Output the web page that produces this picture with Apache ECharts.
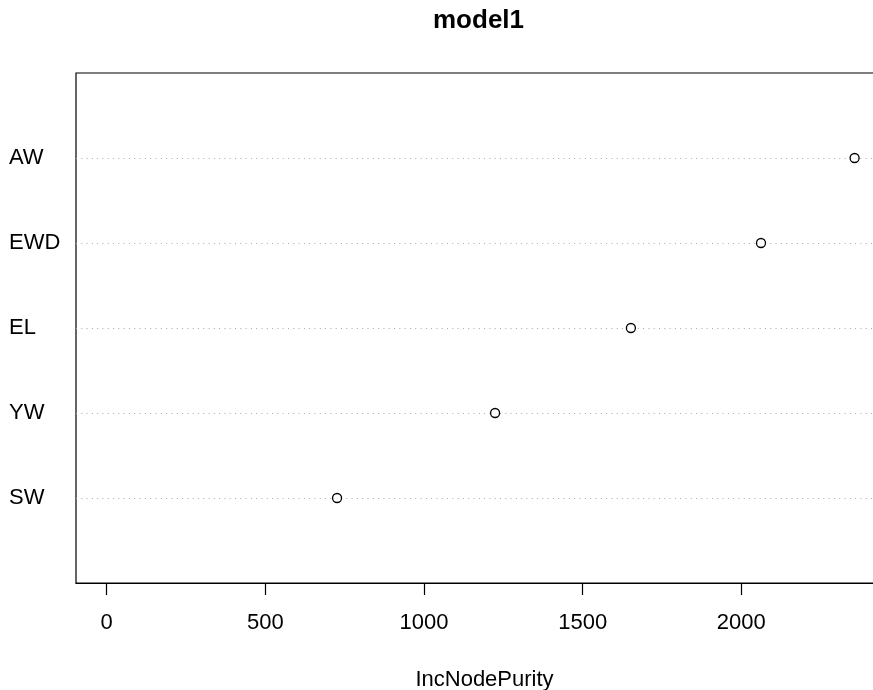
<!DOCTYPE html>
<html>
<head>
<meta charset="utf-8">
<script src="https://cdn.jsdelivr.net/npm/echarts@6/dist/echarts.min.js"></script>
<style>
  html, body { margin: 0; padding: 0; background: #fff; }
  #chart { width: 873px; height: 690px; }
</style>
</head>
<body>
<div id="chart"></div>
<script>
// Data (top-to-bottom order as drawn)
var categories = ['AW', 'EWD', 'EL', 'YW', 'SW'];
var incNodePurity = [2357, 2062, 1652, 1224, 726];
var xTicks = [0, 500, 1000, 1500, 2000];
var titleText = 'model1';
var xAxisTitle = 'IncNodePurity';

// Row positions: bottom row = 1, top row = n
var n = categories.length;
var rowPos = categories.map(function (c, i) { return n - i; });
var points = incNodePurity.map(function (v, i) { return [v, rowPos[i]]; });

var FONT = '"Liberation Sans", Arial, sans-serif';

var chart = echarts.init(document.getElementById('chart'), null, { renderer: 'canvas' });
chart.setOption({
  backgroundColor: '#ffffff',
  animation: false,
  title: {
    text: titleText,
    left: 433,
    top: 8,
    padding: 0,
    textStyle: { fontFamily: FONT, fontSize: 26, fontWeight: 'bold', color: '#000', lineHeight: 26 }
  },
  grid: {
    left: 76,
    top: 73,
    bottom: 107,
    right: -20,
    containLabel: false,
    outerBoundsMode: 'none',
    show: true,
    borderColor: '#000',
    borderWidth: 1.2,
    backgroundColor: 'transparent'
  },
  xAxis: {
    type: 'value',
    min: -96.75,
    max: 2478,
    name: xAxisTitle,
    nameLocation: 'middle',
    nameGap: 86,
    nameTextStyle: { fontFamily: FONT, fontSize: 22, color: '#000', lineHeight: 22 },
    axisLine: { show: true, onZero: false, lineStyle: { color: '#000', width: 1.2 } },
    axisTick: { show: true, length: 12, inside: false, customValues: xTicks, lineStyle: { color: '#000', width: 1.2 } },
    axisLabel: {
      show: true, margin: 29, customValues: xTicks,
      fontFamily: FONT, fontSize: 22, color: '#000', lineHeight: 22,
      formatter: function (v) { return String(v); }
    },
    splitLine: { show: false }
  },
  yAxis: {
    type: 'value',
    min: 0,
    max: n + 1,
    axisLine: { show: false },
    axisTick: { show: false },
    splitLine: { show: false },
    axisLabel: {
      show: true,
      customValues: rowPos,
      align: 'left',
      margin: 67,
      fontFamily: FONT,
      fontSize: 22,
      color: '#000',
      formatter: function (v) {
        var idx = rowPos.indexOf(v);
        return idx >= 0 ? categories[idx] : '';
      }
    }
  },
  series: [{
    type: 'scatter',
    data: points,
    symbol: 'circle',
    symbolSize: 9,
    itemStyle: { color: '#fff', borderColor: '#000', borderWidth: 1.3, opacity: 1 },
    z: 5,
    markLine: {
      silent: true,
      symbol: ['none', 'none'],
      label: { show: false },
      animation: false,
      lineStyle: { color: '#a8a8a8', width: 1, type: [1, 4.3] },
      data: rowPos.map(function (p) { return { yAxis: p }; })
    }
  }]
});
</script>
</body>
</html>
